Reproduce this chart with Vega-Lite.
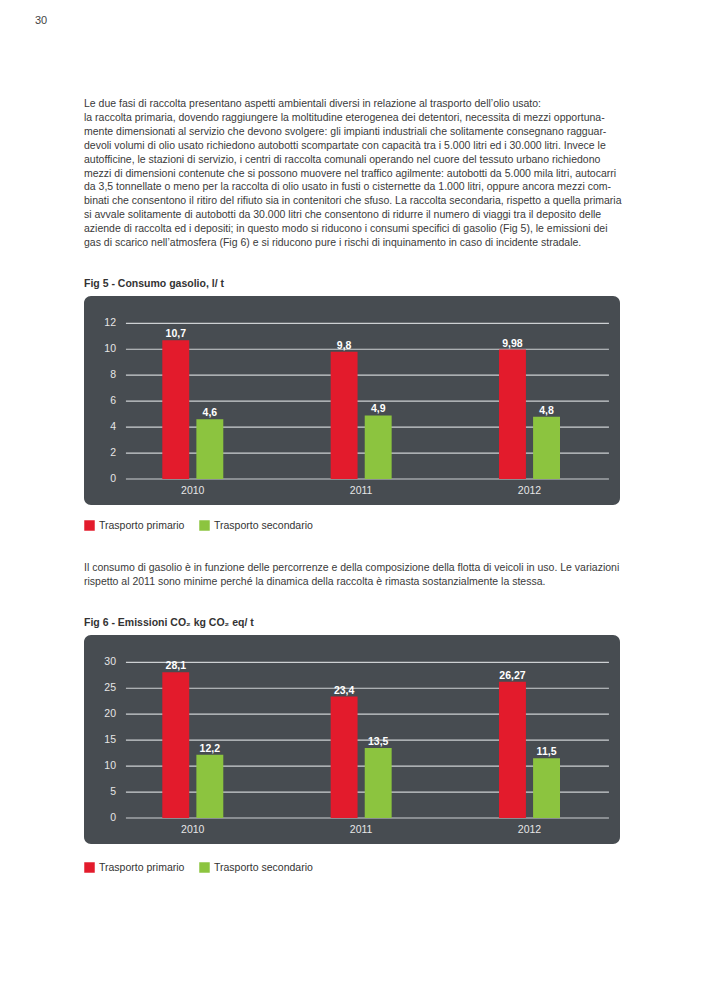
{
  "$schema": "https://vega.github.io/schema/vega-lite/v6.json",
  "background": "white",
  "padding": {"left": 35, "top": 15, "right": 86, "bottom": 10},
  "title": {"text": "30", "anchor": "start", "dx": -49, "fontSize": 11, "fontWeight": "normal", "color": "#444444", "font": "Liberation Sans", "offset": 73},
  "datasets": {
    "fig5": [
      {"year": "2010", "series": "Trasporto primario", "value": 10.7},
      {"year": "2010", "series": "Trasporto secondario", "value": 4.6},
      {"year": "2011", "series": "Trasporto primario", "value": 9.8},
      {"year": "2011", "series": "Trasporto secondario", "value": 4.9},
      {"year": "2012", "series": "Trasporto primario", "value": 9.98},
      {"year": "2012", "series": "Trasporto secondario", "value": 4.8}
    ],
    "fig6": [
      {"year": "2010", "series": "Trasporto primario", "value": 28.1},
      {"year": "2010", "series": "Trasporto secondario", "value": 12.2},
      {"year": "2011", "series": "Trasporto primario", "value": 23.4},
      {"year": "2011", "series": "Trasporto secondario", "value": 13.5},
      {"year": "2012", "series": "Trasporto primario", "value": 26.27},
      {"year": "2012", "series": "Trasporto secondario", "value": 11.5}
    ],
    "grid5": [{"g": 0}, {"g": 2}, {"g": 4}, {"g": 6}, {"g": 8}, {"g": 10}, {"g": 12}],
    "grid6": [{"g": 0}, {"g": 5}, {"g": 10}, {"g": 15}, {"g": 20}, {"g": 25}, {"g": 30}]
  },
  "spacing": 32,
  "resolve": {"scale": {"color": "independent"}, "legend": {"color": "independent"}},
  "vconcat": [
    {
      "width": 536,
      "height": 209,
      "title": {
        "text": [
          "Le due fasi di raccolta presentano aspetti ambientali diversi in relazione al trasporto dell’olio usato:",
          "la raccolta primaria, dovendo raggiungere la moltitudine eterogenea dei detentori, necessita di mezzi opportuna-",
          "mente dimensionati al servizio che devono svolgere: gli impianti industriali che solitamente consegnano ragguar-",
          "devoli volumi di olio usato richiedono autobotti scompartate con capacità tra i 5.000 litri ed i 30.000 litri. Invece le",
          "autofficine, le stazioni di servizio, i centri di raccolta comunali operando nel cuore del tessuto urbano richiedono",
          "mezzi di dimensioni contenute che si possono muovere nel traffico agilmente: autobotti da 5.000 mila litri, autocarri",
          "da 3,5 tonnellate o meno per la raccolta di olio usato in fusti o cisternette da 1.000 litri, oppure ancora mezzi com-",
          "binati che consentono il ritiro del rifiuto sia in contenitori che sfuso. La raccolta secondaria, rispetto a quella primaria",
          "si avvale solitamente di autobotti da 30.000 litri che consentono di ridurre il numero di viaggi tra il deposito delle",
          "aziende di raccolta ed i depositi; in questo modo si riducono i consumi specifici di gasolio (Fig 5), le emissioni dei",
          "gas di scarico nell’atmosfera (Fig 6) e si riducono pure i rischi di inquinamento in caso di incidente stradale."
        ],
        "subtitle": "Fig 5 - Consumo gasolio, l/ t",
        "anchor": "start", "frame": "group",
        "font": "Liberation Sans", "fontSize": 10.5, "fontWeight": "normal", "lineHeight": 13.9, "color": "#3a3a3a",
        "subtitleFont": "Liberation Sans", "subtitleFontSize": 10.5, "subtitleFontWeight": "bold", "subtitleColor": "#333333",
        "subtitlePadding": 30, "offset": 7
      },
      "layer": [
        {
          "data": {"name": "grid5"},
          "mark": {"type": "rule", "color": "#cdd0d3", "strokeWidth": 1.2},
          "encoding": {
            "y": {"field": "g", "type": "quantitative", "scale": {"domain": [-2.004, 14.104], "nice": false}, "axis": null},
            "x": {"datum": "2010", "type": "nominal", "bandPosition": 0.103, "scale": {"domain": ["2010", "2011", "2012"], "paddingInner": 0, "paddingOuter": 0.0919, "align": 0.795}},
            "x2": {"datum": "2012", "bandPosition": 0.972}
          }
        },
        {
          "data": {"name": "grid5"},
          "mark": {"type": "text", "color": "#e6e6e6", "fontSize": 10.5, "align": "right", "baseline": "middle"},
          "encoding": {
            "y": {"field": "g", "type": "quantitative", "axis": null},
            "x": {"datum": "2010", "type": "nominal", "bandPosition": 0.044},
            "text": {"field": "g", "type": "quantitative"}
          }
        },
        {
          "data": {"name": "fig5"},
          "mark": {"type": "bar"},
          "encoding": {
            "x": {"field": "year", "type": "nominal"},
            "xOffset": {"field": "series", "type": "nominal", "scale": {"range": [53.7, 114.7], "paddingInner": 0.21, "paddingOuter": 0}},
            "y": {"field": "value", "type": "quantitative", "axis": null},
            "y2": {"datum": 0},
            "color": {
              "field": "series", "type": "nominal",
              "scale": {"domain": ["Trasporto primario", "Trasporto secondario"], "range": ["#e31b2c", "#8cc43f"]},
              "legend": {"orient": "none", "legendX": 0, "legendY": 224, "direction": "horizontal", "title": null}
            }
          }
        },
        {
          "data": {"name": "fig5"},
          "mark": {"type": "text", "color": "white", "fontWeight": "bold", "fontSize": 10.5, "baseline": "alphabetic", "dy": -3},
          "encoding": {
            "x": {"field": "year", "type": "nominal"},
            "xOffset": {"field": "series", "type": "nominal"},
            "y": {"field": "value", "type": "quantitative", "axis": null},
            "text": {"field": "value", "type": "quantitative", "format": "~g"}
          }
        }
      ]
    },
    {
      "width": 536,
      "height": 209,
      "title": {
        "text": [
          "Il consumo di gasolio è in funzione delle percorrenze e della composizione della flotta di veicoli in uso. Le variazioni",
          "rispetto al 2011 sono minime perché la dinamica della raccolta è rimasta sostanzialmente la stessa."
        ],
        "subtitle": "Fig 6 - Emissioni CO₂ kg CO₂ eq/ t",
        "anchor": "start", "frame": "group",
        "font": "Liberation Sans", "fontSize": 10.5, "fontWeight": "normal", "lineHeight": 13.9, "color": "#3a3a3a",
        "subtitleFont": "Liberation Sans", "subtitleFontSize": 10.5, "subtitleFontWeight": "bold", "subtitleColor": "#333333",
        "subtitlePadding": 30, "offset": 7
      },
      "layer": [
        {
          "data": {"name": "grid6"},
          "mark": {"type": "rule", "color": "#cdd0d3", "strokeWidth": 1.2},
          "encoding": {
            "y": {"field": "g", "type": "quantitative", "scale": {"domain": [-5.01, 35.26], "nice": false}, "axis": null},
            "x": {"datum": "2010", "type": "nominal", "bandPosition": 0.103, "scale": {"domain": ["2010", "2011", "2012"], "paddingInner": 0, "paddingOuter": 0.0919, "align": 0.795}},
            "x2": {"datum": "2012", "bandPosition": 0.972}
          }
        },
        {
          "data": {"name": "grid6"},
          "mark": {"type": "text", "color": "#e6e6e6", "fontSize": 10.5, "align": "right", "baseline": "middle"},
          "encoding": {
            "y": {"field": "g", "type": "quantitative", "axis": null},
            "x": {"datum": "2010", "type": "nominal", "bandPosition": 0.044},
            "text": {"field": "g", "type": "quantitative"}
          }
        },
        {
          "data": {"name": "fig6"},
          "mark": {"type": "bar"},
          "encoding": {
            "x": {"field": "year", "type": "nominal"},
            "xOffset": {"field": "series", "type": "nominal", "scale": {"range": [53.7, 114.7], "paddingInner": 0.21, "paddingOuter": 0}},
            "y": {"field": "value", "type": "quantitative", "axis": null},
            "y2": {"datum": 0},
            "color": {
              "field": "series", "type": "nominal",
              "scale": {"domain": ["Trasporto primario", "Trasporto secondario"], "range": ["#e31b2c", "#8cc43f"]},
              "legend": {"orient": "none", "legendX": 0, "legendY": 227, "direction": "horizontal", "title": null}
            }
          }
        },
        {
          "data": {"name": "fig6"},
          "mark": {"type": "text", "color": "white", "fontWeight": "bold", "fontSize": 10.5, "baseline": "alphabetic", "dy": -3},
          "encoding": {
            "x": {"field": "year", "type": "nominal"},
            "xOffset": {"field": "series", "type": "nominal"},
            "y": {"field": "value", "type": "quantitative", "axis": null},
            "text": {"field": "value", "type": "quantitative", "format": "~g"}
          }
        }
      ]
    }
  ],
  "config": {
    "font": "Liberation Sans",
    "locale": {"number": {"decimal": ",", "thousands": ".", "grouping": [3], "currency": ["", " €"]}},
    "view": {"fill": "#474c51", "stroke": null, "cornerRadius": 7},
    "axisX": {"orient": "bottom", "domain": false, "ticks": false, "tickSize": 0, "grid": false, "labelPadding": 0, "offset": -20, "labelColor": "#e6e6e6", "labelFontSize": 10.5, "labelAngle": 0, "labelBaseline": "top", "title": null},
    "legend": {"symbolType": "square", "symbolSize": 110, "symbolStrokeWidth": 0, "labelFontSize": 10.5, "labelColor": "#333333", "labelFont": "Liberation Sans", "columnPadding": 14, "labelOffset": 4, "padding": 0, "rowPadding": 0, "symbolOffset": 0}
  }
}
